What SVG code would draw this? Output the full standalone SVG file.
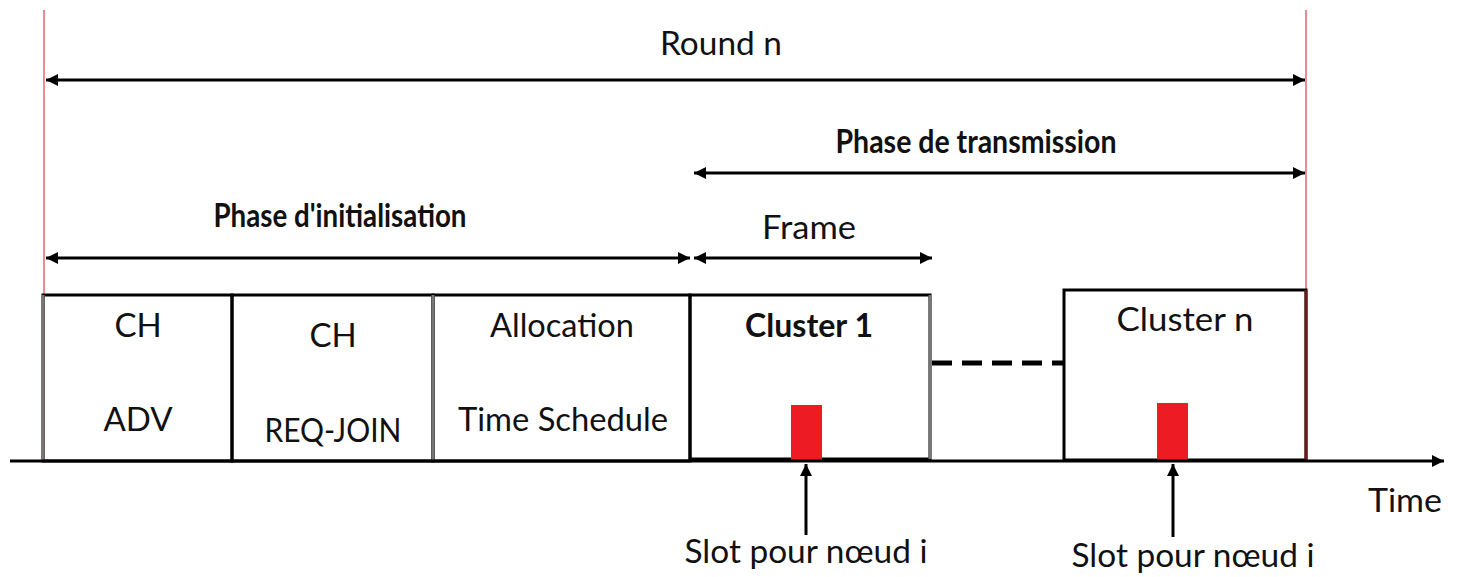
<svg xmlns="http://www.w3.org/2000/svg" width="1459" height="577" viewBox="0 0 1459 577">
  <style>
    text { font-family: Lato, "Liberation Sans", sans-serif; font-size: 33px; fill: #111; text-anchor: middle; }
    .b { font-weight: 700; }
    .edge { stroke: #000; stroke-width: 3; fill: none; }
    .grey { stroke: #777; }
    .span { stroke: #000; stroke-width: 3; fill: none; marker-start: url(#tip); marker-end: url(#tip); }
    .bound { stroke: #ee8a8f; stroke-width: 2; }
    .slot { fill: #ed1c24; }
  </style>
  <defs>
    <marker id="tip" markerUnits="userSpaceOnUse" markerWidth="14" markerHeight="14" refX="12" refY="7" orient="auto-start-reverse">
      <path d="M0,1 L12,7 L0,13 z" fill="#000"/>
    </marker>
  </defs>

  <!-- round boundaries -->
  <g id="bounds">
    <line class="bound" x1="44" y1="10" x2="44" y2="461"/>
    <line class="bound" x1="1306" y1="10" x2="1306" y2="290"/>
  </g>

  <!-- initialisation phase blocks -->
  <g id="ch-adv">
    <rect x="43" y="295" width="189" height="166" fill="#fff" class="edge"/>
    <line x1="43" y1="295" x2="43" y2="461" class="edge grey"/>
    <text x="138" y="337">CH</text>
    <text x="138" y="431">ADV</text>
  </g>
  <g id="ch-req-join">
    <rect x="232" y="295" width="201" height="166" fill="#fff" class="edge"/>
    <text x="333" y="347">CH</text>
    <text x="333" y="442" textLength="137" lengthAdjust="spacingAndGlyphs">REQ-JOIN</text>
  </g>
  <g id="allocation">
    <rect x="433" y="295" width="257" height="166" fill="#fff" class="edge"/>
    <line x1="433" y1="295" x2="433" y2="461" class="edge grey"/>
    <text x="562" y="337" textLength="144" lengthAdjust="spacingAndGlyphs">Allocation</text>
    <text x="563" y="431" textLength="210" lengthAdjust="spacingAndGlyphs">Time Schedule</text>
  </g>

  <!-- transmission phase blocks -->
  <g id="cluster-1">
    <rect x="690" y="295" width="240" height="164" fill="#fff" class="edge"/>
    <line x1="930" y1="295" x2="930" y2="459" class="edge grey"/>
    <text x="809" y="337" class="b" textLength="128" lengthAdjust="spacingAndGlyphs">Cluster 1</text>
    <rect class="slot" x="791" y="405" width="31" height="55"/>
  </g>
  <g id="cluster-n">
    <rect x="1064" y="290" width="242" height="170" fill="#fff" class="edge"/>
    <line x1="1306" y1="290" x2="1306" y2="461" stroke="#6b1a1a" stroke-width="3"/>
    <text x="1185" y="331" textLength="137" lengthAdjust="spacingAndGlyphs">Cluster n</text>
    <rect class="slot" x="1157" y="403" width="31" height="57"/>
  </g>

  <!-- connectors: spans, time axis, slot pointers -->
  <g id="connectors">
    <line class="span" x1="46" y1="80" x2="1305" y2="80"/>
    <line class="span" x1="694" y1="173" x2="1305" y2="173"/>
    <line class="span" x1="46" y1="258" x2="690" y2="258"/>
    <line class="span" x1="694" y1="258" x2="932" y2="258"/>
    <line x1="932" y1="363" x2="1064" y2="363" stroke="#000" stroke-width="5" stroke-dasharray="20,10"/>
    <line class="edge" x1="10" y1="461" x2="1444" y2="461" marker-end="url(#tip)"/>
    <line class="edge" x1="806" y1="535" x2="806" y2="464" marker-end="url(#tip)"/>
    <line class="edge" x1="1173" y1="537" x2="1173" y2="464" marker-end="url(#tip)"/>
  </g>

  <!-- labels -->
  <g id="labels">
    <text x="721" y="55" textLength="122" lengthAdjust="spacingAndGlyphs">Round n</text>
    <text x="976" y="153" class="b" textLength="281" lengthAdjust="spacingAndGlyphs">Phase de transmission</text>
    <text x="340" y="227" class="b" textLength="253" lengthAdjust="spacingAndGlyphs">Phase d'initialisation</text>
    <text x="809" y="239" textLength="94" lengthAdjust="spacingAndGlyphs">Frame</text>
    <text x="1405" y="512" textLength="74" lengthAdjust="spacingAndGlyphs">Time</text>
    <text x="806" y="563" textLength="243" lengthAdjust="spacingAndGlyphs">Slot pour nœud i</text>
    <text x="1193" y="567" textLength="243" lengthAdjust="spacingAndGlyphs">Slot pour nœud i</text>
  </g>
</svg>
